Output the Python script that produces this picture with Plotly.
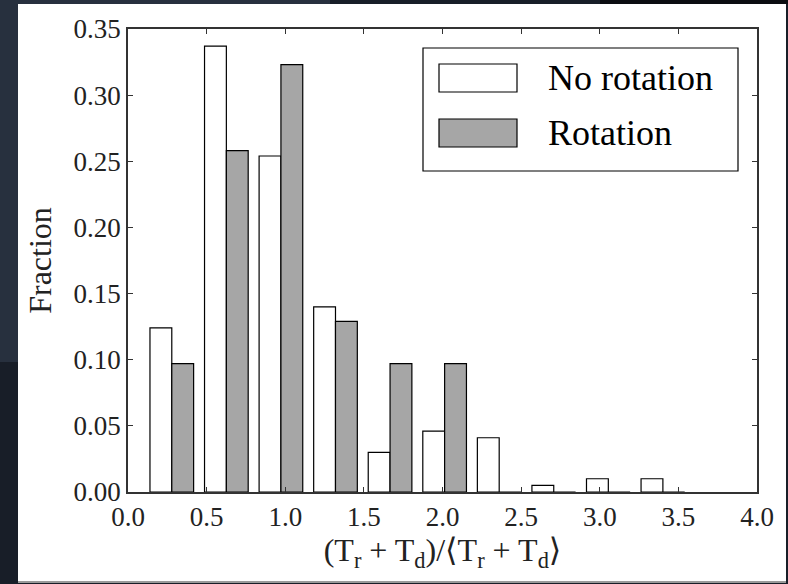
import plotly.graph_objects as go
import numpy as np

# ---- data ----
bin_edges = [0.105, 0.452, 0.799, 1.146, 1.493, 1.840, 2.187, 2.534, 2.881, 3.228, 3.575]
series_names = ["No rotation", "Rotation"]
no_rotation = [0.124, 0.337, 0.254, 0.140, 0.030, 0.046, 0.041, 0.005, 0.010, 0.010]
rotation = [0.097, 0.258, 0.323, 0.129, 0.097, 0.097, 0.0, 0.0, 0.0, 0.0]
x_ticks = [0.0, 0.5, 1.0, 1.5, 2.0, 2.5, 3.0, 3.5, 4.0]
y_ticks = [0.00, 0.05, 0.10, 0.15, 0.20, 0.25, 0.30, 0.35]

edges = np.array(bin_edges)
centers = (edges[:-1] + edges[1:]) / 2

W, H = 788, 584
L, R, T, B = 128, 757, 29, 492
FONT = "'Liberation Serif', 'Times New Roman', 'DejaVu Serif', serif"


def px(xp):
    return (xp - L) / (R - L)


def py(yp):
    return (B - yp) / (B - T)


fig = go.Figure()
fig.add_trace(go.Bar(x=centers, y=no_rotation, name=series_names[0],
                     marker=dict(color="white", line=dict(color="black", width=1.2)),
                     showlegend=False))
fig.add_trace(go.Bar(x=centers, y=rotation, name=series_names[1],
                     marker=dict(color="#a6a6a6", line=dict(color="black", width=1.2)),
                     showlegend=False))

shapes = []
# slide-like dark background pieces
shapes.append(dict(type="rect", xref="paper", yref="paper", x0=px(0), x1=px(18), y0=py(0), y1=py(362),
                   fillcolor="#27303e", line=dict(width=0), layer="below"))
shapes.append(dict(type="rect", xref="paper", yref="paper", x0=px(0), x1=px(330), y0=py(0), y1=py(4),
                   fillcolor="#27303e", line=dict(width=0), layer="below"))
shapes.append(dict(type="rect", xref="paper", yref="paper", x0=px(600), x1=px(788), y0=py(0), y1=py(4),
                   fillcolor="#0b0d11", line=dict(width=0), layer="below"))
# white figure area
shapes.append(dict(type="rect", xref="paper", yref="paper", x0=px(18), x1=px(786), y0=py(4), y1=py(581),
                   fillcolor="white", line=dict(width=0), layer="below"))
shapes.append(dict(type="line", xref="paper", yref="paper", x0=px(18), x1=px(786), y0=py(582), y1=py(582),
                   line=dict(color="#9a9a9a", width=2), layer="below"))
# legend box
shapes.append(dict(type="rect", xref="paper", yref="paper", x0=px(423), x1=px(738), y0=py(48), y1=py(171),
                   fillcolor="white", line=dict(color="black", width=1.2)))
shapes.append(dict(type="rect", xref="paper", yref="paper", x0=px(439), x1=px(517), y0=py(64), y1=py(92),
                   fillcolor="white", line=dict(color="black", width=1.2)))
shapes.append(dict(type="rect", xref="paper", yref="paper", x0=px(439), x1=px(517), y0=py(119), y1=py(147),
                   fillcolor="#a6a6a6", line=dict(color="black", width=1.2)))

annotations = [
    dict(xref="paper", yref="paper", x=px(546), y=py(78), text=series_names[0], showarrow=False,
         xanchor="left", yanchor="middle", font=dict(family=FONT, size=36, color="black")),
    dict(xref="paper", yref="paper", x=px(546), y=py(133), text=series_names[1], showarrow=False,
         xanchor="left", yanchor="middle", font=dict(family=FONT, size=36, color="black")),
]

axis_common = dict(showline=True, linecolor="#333333", linewidth=1.5, mirror="allticks",
                   ticks="inside", ticklen=5, tickwidth=1, tickcolor="#333333",
                   showgrid=False, zeroline=False,
                   tickfont=dict(family=FONT, size=27, color="#222222"))

fig.update_layout(
    width=W, height=H,
    margin=dict(l=L, r=W - R, t=T, b=H - B),
    paper_bgcolor="#181e28",
    plot_bgcolor="white",
    font=dict(family=FONT),
    barmode="group", bargap=0.2, bargroupgap=0.0,
    shapes=shapes, annotations=annotations,
    xaxis=dict(range=[0, 4], tickvals=x_ticks, ticktext=[f"{v:.1f}" for v in x_ticks],
               title=dict(text="(T<sub>r</sub> + T<sub>d</sub>)/⟨T<sub>r</sub> + T<sub>d</sub>⟩",
                          font=dict(family=FONT, size=32, color="#222222"), standoff=4),
               **axis_common),
    yaxis=dict(range=[0, 0.35], tickvals=y_ticks, ticktext=[f"{v:.2f}" for v in y_ticks],
               title=dict(text="Fraction", font=dict(family=FONT, size=32, color="#222222"), standoff=12),
               **axis_common),
)

fig.write_html("out.html")
